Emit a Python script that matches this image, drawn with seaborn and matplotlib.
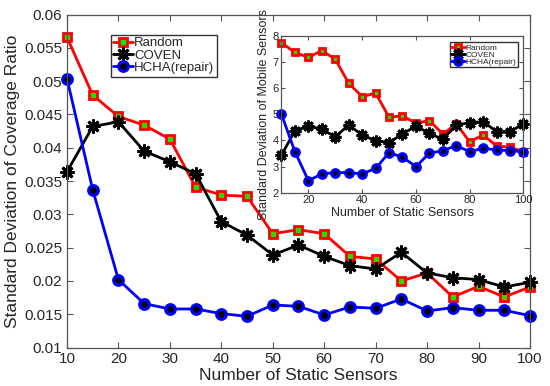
import matplotlib
matplotlib.use("Agg")
import matplotlib.pyplot as plt
import seaborn as sns

# number of static sensors (shared by both panels)
sensors = [10, 15, 20, 25, 30, 35, 40, 45, 50, 55, 60, 65, 70, 75, 80, 85, 90, 95, 100]

# main plot: standard deviation of coverage ratio
random_cov = [0.0566, 0.0479, 0.0447, 0.0434, 0.0413, 0.0341, 0.0329, 0.0327, 0.0271, 0.0277,
              0.0271, 0.0237, 0.0233, 0.0200, 0.0212, 0.0176, 0.0192, 0.0176, 0.0191]
coven_cov = [0.0364, 0.0432, 0.0439, 0.0395, 0.0379, 0.0361, 0.0289, 0.0269, 0.0239, 0.0254,
             0.0237, 0.0223, 0.0218, 0.0243, 0.0212, 0.0205, 0.0202, 0.0191, 0.0198]
hcha_cov = [0.0504, 0.0337, 0.0202, 0.0166, 0.0158, 0.0158, 0.0151, 0.0147, 0.0164, 0.0162,
            0.0149, 0.0161, 0.0159, 0.0173, 0.0155, 0.0160, 0.0156, 0.0156, 0.0148]

# inset: standard deviation of mobile sensors
random_mob = [7.74, 7.37, 7.18, 7.44, 7.11, 6.19, 5.68, 5.81, 4.89, 4.94,
              4.66, 4.76, 4.25, 4.63, 3.95, 4.21, 3.79, 3.74, 3.57]
coven_mob = [3.44, 4.37, 4.55, 4.43, 4.14, 4.59, 4.21, 3.99, 3.92, 4.25,
             4.55, 4.27, 4.04, 4.59, 4.68, 4.72, 4.34, 4.34, 4.63]
hcha_mob = [5.00, 3.57, 2.46, 2.72, 2.77, 2.77, 2.72, 2.93, 3.53, 3.36,
            3.00, 3.51, 3.61, 3.80, 3.57, 3.70, 3.64, 3.61, 3.57]

main_ticks_y = [0.01, 0.015, 0.02, 0.025, 0.03, 0.035, 0.04, 0.045, 0.05, 0.055, 0.06]
main_tick_labels_y = ["0.01", "0.015", "0.02", "0.025", "0.03", "0.035",
                      "0.04", "0.045", "0.05", "0.055", "0.06"]

sns.set_style("ticks")
plt.rcParams["font.family"] = ["Liberation Sans", "DejaVu Sans"]
text_color = "#262626"
axis_color = "#555555"

fig = plt.figure(figsize=(5.5, 3.86), dpi=100)
ax = fig.add_axes([0.1218, 0.0995, 0.8418, 0.8627])


def draw_series(axis, y_random, y_coven, y_hcha, ms, lw):
    sns.lineplot(x=sensors, y=y_random, ax=axis, color="red", linewidth=lw,
                 marker="s", markersize=ms, markerfacecolor="#22dd00",
                 markeredgecolor="red", markeredgewidth=2, label="Random", clip_on=False)
    sns.lineplot(x=sensors, y=y_coven, ax=axis, color="black", linewidth=lw,
                 marker=(8, 2, 0), markersize=ms + 4, markeredgecolor="black",
                 markeredgewidth=2, label="COVEN", clip_on=False)
    sns.lineplot(x=sensors, y=y_hcha, ax=axis, color="blue", linewidth=lw,
                 marker="o", markersize=ms + 1, markerfacecolor="black",
                 markeredgecolor="blue", markeredgewidth=2.2, label="HCHA(repair)",
                 clip_on=False)


def style_axis(axis, fs):
    axis.tick_params(direction="in", top=True, right=True, colors=axis_color,
                     labelcolor=text_color, labelsize=fs, length=4, width=0.8)
    for sp in axis.spines.values():
        sp.set_visible(True)
        sp.set_color(axis_color)
        sp.set_linewidth(0.9)


draw_series(ax, random_cov, coven_cov, hcha_cov, 6, 2)
ax.set_xlim(10, 100)
ax.set_ylim(0.01, 0.06)
ax.set_xticks(range(10, 101, 10))
ax.set_yticks(main_ticks_y)
ax.set_yticklabels(main_tick_labels_y)
style_axis(ax, 11)
ax.set_xlabel("Number of Static Sensors", fontsize=12.5, color=text_color, labelpad=1)
ax.set_ylabel("Standard Deviation of Coverage Ratio", fontsize=12.5, color=text_color, labelpad=3)
leg = ax.legend(loc="upper left", bbox_to_anchor=(0.094, 0.94), borderaxespad=0,
                fontsize=9.5, handlelength=1.5, handletextpad=0.1, labelspacing=0.0,
                borderpad=0.2, fancybox=False, framealpha=1, edgecolor="#333333")
for t in leg.get_texts():
    t.set_color(text_color)

# inset
ins = fig.add_axes([0.5118, 0.5008, 0.44, 0.406])
ins.set_facecolor("white")
draw_series(ins, random_mob, coven_mob, hcha_mob, 4.5, 2)
ins.set_xlim(10, 100)
ins.set_ylim(2, 8)
ins.set_xticks([20, 40, 60, 80, 100])
ins.set_yticks([2, 3, 4, 5, 6, 7, 8])
style_axis(ins, 8)
ins.tick_params(pad=2, length=3)
ins.set_xlabel("Number of Static Sensors", fontsize=9, color=text_color, labelpad=1)
ins.set_ylabel("Standard Deviation of Mobile Sensors", fontsize=9, color=text_color, labelpad=2)
leg2 = ins.legend(loc="upper right", bbox_to_anchor=(0.977, 0.96), borderaxespad=0,
                  fontsize=6, handlelength=1.6, handletextpad=0.1, labelspacing=-0.1,
                  borderpad=0.2, fancybox=False, framealpha=1, edgecolor="#333333")
for t in leg2.get_texts():
    t.set_color(text_color)

fig.savefig("out.png", dpi=100)
